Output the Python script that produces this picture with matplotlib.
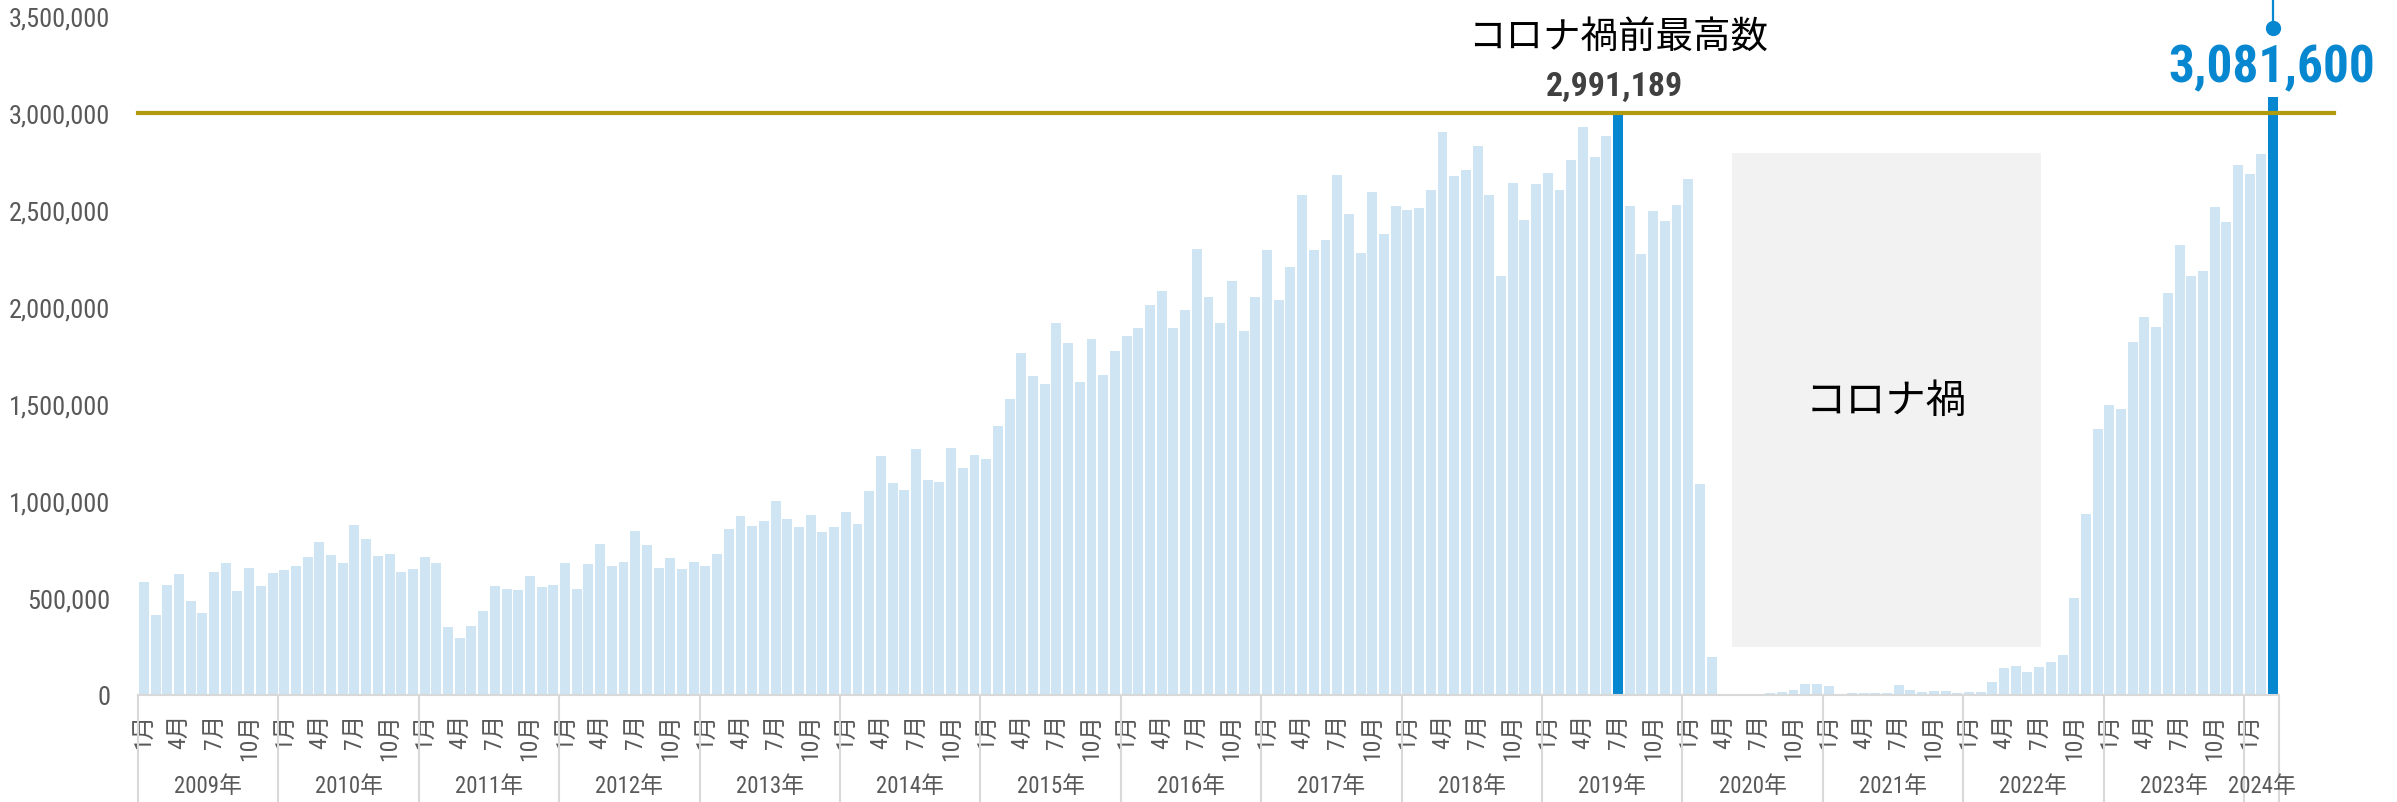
import matplotlib
matplotlib.use("Agg")
import matplotlib.pyplot as plt
from matplotlib import font_manager
from matplotlib.patches import Rectangle
import matplotlib.transforms as mtransforms

# 訪日外客数（月別）
years = list(range(2009, 2025))
v2009 = [582000, 410000, 568000, 626000, 485000, 425000, 633000, 679000, 535000, 655000, 564000, 628000]
v2010 = [642000, 666000, 710000, 787000, 721000, 678000, 878000, 803000, 717000, 726000, 633000, 648000]
v2011 = [713881, 679393, 352800, 295836, 358000, 433100, 559900, 546900, 539300, 614700, 554800, 568000]
v2012 = [681000, 545000, 675000, 778000, 666000, 683000, 845000, 773000, 657000, 704000, 648000, 688000]
v2013 = [666000, 728000, 856000, 921000, 872000, 899000, 1001000, 905000, 865000, 927000, 838000, 865000]
v2014 = [943000, 880000, 1049000, 1231000, 1095000, 1055000, 1268000, 1107000, 1100000, 1271000, 1168000, 1235000]
v2015 = [1218000, 1386000, 1527000, 1765000, 1643000, 1605000, 1918000, 1817000, 1614000, 1833000, 1647000, 1773000]
v2016 = [1851895, 1891375, 2009549, 2081697, 1893395, 1985683, 2296451, 2049234, 1917948, 2135904, 1875377, 2050585]
v2017 = [2295700, 2035800, 2205700, 2578800, 2294700, 2346500, 2682900, 2478700, 2280600, 2593700, 2378000, 2521000]
v2018 = [2501409, 2509297, 2605088, 2900718, 2675052, 2704631, 2832040, 2578021, 2159595, 2640610, 2449826, 2632101]
v2019 = [2689339, 2604322, 2760136, 2926685, 2773091, 2880041, 2991189, 2520134, 2272883, 2496568, 2441274, 2526387]
v2020 = [2661022, 1085147, 193658, 2917, 1663, 2565, 3782, 8658, 13684, 27386, 56673, 58673]
v2021 = [46500, 7355, 12276, 10914, 10035, 9250, 51055, 25916, 17720, 22113, 21000, 12100]
v2022 = [17766, 16719, 66121, 139548, 147046, 120430, 144578, 169902, 206641, 498646, 934599, 1370114]
v2023 = [1497300, 1475300, 1817500, 1949100, 1899200, 2073300, 2320600, 2159600, 2184300, 2516500, 2440600, 2734000]
v2024 = [2688100, 2788000, 3081600]

values = (v2009 + v2010 + v2011 + v2012 + v2013 + v2014 + v2015 + v2016
          + v2017 + v2018 + v2019 + v2020 + v2021 + v2022 + v2023 + v2024)
months = [m for y in years for m in range(1, 13)][:len(values)]
year_of = [y for y in years for m in range(1, 13)][:len(values)]

prev_peak_idx = year_of.index(2019) + 6   # 2019年7月
latest_idx = len(values) - 1              # 2024年3月
ref_line = 3000000

LIGHT = "#cfe5f4"
BLUE = "#0787d0"
OLIVE = "#b09b0e"
GRAY_TXT = "#595959"
SEP = "#d9d9d9"

# 細めの欧文フォントがあれば使う。無ければ Liberation Sans を小さめに
installed = {f.name for f in font_manager.fontManager.ttflist}
narrow = None
for name in ["Liberation Sans Narrow", "DejaVu Sans Condensed", "Roboto Condensed",
             "Open Sans Condensed", "Noto Sans Condensed"]:
    if name in installed:
        narrow = name
        break
if narrow:
    latin, k = narrow, 1.0
else:
    latin, k = "Liberation Sans", 0.82

plt.rcParams["font.family"] = [latin, "Noto Sans CJK JP"]

W, H = 2397, 803
fig = plt.figure(figsize=(W / 100, H / 100), dpi=100)
ax = fig.add_axes([138 / W, 107 / H, (2279 - 138) / W, (696 - 17) / H])

x = list(range(len(values)))
colors = [BLUE if i in (prev_peak_idx, latest_idx) else LIGHT for i in x]
ax.bar(x, values, width=0.85, color=colors, zorder=2)

ax.set_xlim(-0.5, len(values) - 0.5)
ax.set_ylim(0, 3500000)
ax.set_yticks(range(0, 3500001, 500000))
ax.set_yticklabels([f"{v:,}" for v in range(0, 3500001, 500000)])
ax.tick_params(axis="y", length=0, pad=20, labelsize=19 * k, labelcolor=GRAY_TXT)

tick_idx = [i for i in x if months[i] in (1, 4, 7, 10)]
ax.set_xticks(tick_idx)
ax.set_xticklabels([f"{months[i]}月" for i in tick_idx], rotation=90, va="top", ha="center")
ax.tick_params(axis="x", length=0, pad=13, labelsize=17, labelcolor=GRAY_TXT)

for s in ("top", "right", "left"):
    ax.spines[s].set_visible(False)
ax.spines["bottom"].set_color(SEP)
ax.spines["bottom"].set_linewidth(1.5)

# 年の区切り線と年ラベル
trans = mtransforms.blended_transform_factory(ax.transData, ax.transAxes)
starts = [i for i in x if months[i] == 1] + [len(values)]
for j, s in enumerate(starts):
    ax.plot([s - 0.5, s - 0.5], [0, -0.16], transform=trans, color=SEP, lw=1.5, clip_on=False)
    if j < len(starts) - 1:
        e = starts[j + 1]
        ax.text((s + e - 1) / 2, -0.133, f"{year_of[s]}年", transform=trans, ha="center",
                va="center", fontsize=16.5, color=GRAY_TXT)

# 300万人ライン
ax.axhline(ref_line, xmin=0, xmax=(2334 - 138) / (2279 - 138), color=OLIVE, lw=3,
           clip_on=False, zorder=3)

# コロナ禍の枠
ax.add_patch(Rectangle((135.74, 247000), 162.15 - 135.74, 2794000 - 247000,
                       facecolor="#f2f2f2", edgecolor="none", zorder=1))
ax.text(148.9, 1520000, "コロナ禍", ha="center", va="center", fontsize=29,
        family="Noto Sans CJK JP", color="black", zorder=4)

# コロナ禍前最高数
ax.text(prev_peak_idx, 3397000, "コロナ禍前最高数", ha="center", va="center", fontsize=27,
        family="Noto Sans CJK JP", color="black")
ax.text(prev_peak_idx - 0.3, 3140000, f"{values[prev_peak_idx]:,}", ha="center", va="center",
        fontsize=24.5 * k, fontweight="bold", color="#404040")

# 最新値
ax.plot([latest_idx, latest_idx], [3438000, 3700000], color=BLUE, lw=1.6, clip_on=False)
ax.plot([latest_idx], [3438000], "o", color=BLUE, markersize=10, clip_on=False)
ax.text(latest_idx - 0.1, 3235000, f"{values[latest_idx]:,}", ha="center", va="center",
        fontsize=37 * k, fontweight="bold", color=BLUE)

fig.savefig("out.png", dpi=100)
